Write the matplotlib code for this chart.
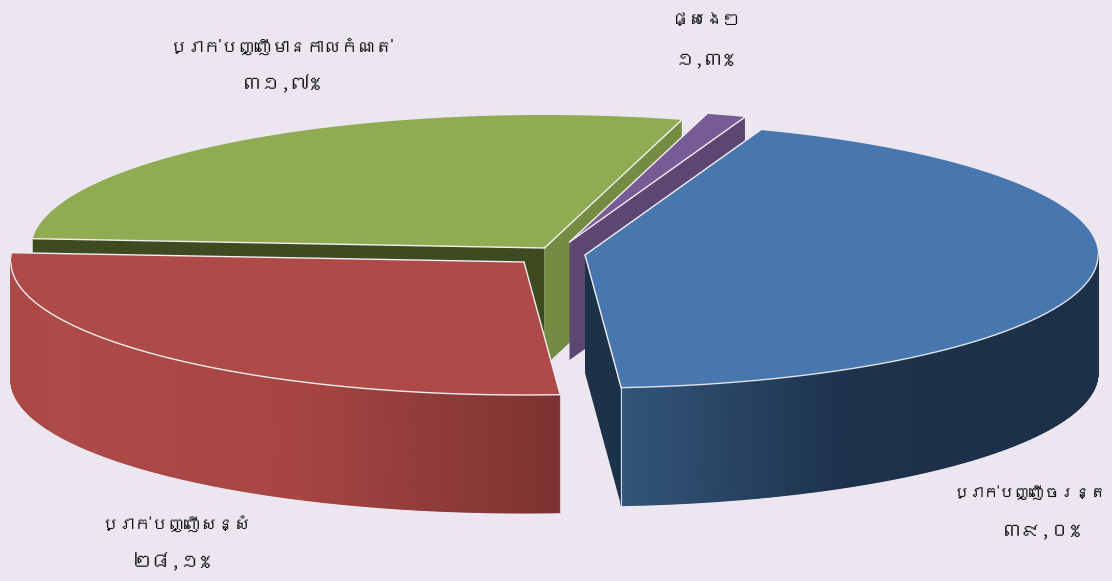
import numpy as np
import matplotlib
matplotlib.use("Agg")
import matplotlib.pyplot as plt
from matplotlib import font_manager as fm
from matplotlib.colors import LinearSegmentedColormap, Normalize
from matplotlib.ft2font import FT2Font

# ---- data ----
categories = ["ប្រាក់បញ្ញើចរន្ត", "ប្រាក់បញ្ញើសន្សំ", "ប្រាក់បញ្ញើមានកាលកំណត់", "ផ្សេងៗ"]
values = [39.0, 28.1, 31.7, 1.3]
value_labels = ["៣៩,០%", "២៨,១%", "៣១,៧%", "១,៣%"]

# ---- fonts: use a family with Khmer letters if the system has one ----
families = ["Noto Sans", "DejaVu Sans"]
for path in sorted(fm.findSystemFonts()):
    try:
        if 0x1780 in FT2Font(path).get_charmap():
            families.insert(0, fm.FontProperties(fname=path).get_name())
            break
    except Exception:
        pass
plt.rcParams["font.family"] = families
plt.rcParams["text.hinting"] = "no_hinting"
plt.rcParams["text.hinting_factor"] = 1

# ---- layout / style ----
BG = "#ebe6f0"
W, H = 1112, 581
RX, RY, DEPTH = 513, 133, 118
START = 70.0
# the reference is drawn in perspective: small per-boundary screen-angle corrections
PERSP = [0.0, -15.7, -12.7, -0.2, 0.0]
APEX = [(585, 255), (524, 262), (544.5, 248), (569.5, 242)]
TOP = ["#4876ae", "#ae4a47", "#8fac53", "#775b94"]
NAME_POS = [(1030, 493), (176, 524), (282, 46), (706, 20)]
NAME_SIZE = [11, 12, 12.4, 12.3]
VALUE_POS = [(1042, 531), (172, 562), (282, 84), (705, 60)]
VALUE_SIZE = 14

fig = plt.figure(figsize=(W / 100, H / 100), dpi=100, facecolor=BG)
ax = fig.add_axes([0, 0, 1, 1])
ax.set_xlim(0, W)
ax.set_ylim(H, 0)
ax.axis("off")

# slice boundaries, clockwise in screen parameter, from the values
total = sum(values)
cum = np.concatenate([[0], np.cumsum(values)]) / total * 360
bounds = [START - c + s for c, s in zip(cum, PERSP)]


def rim(i, a, b, n=240):
    t = np.radians(np.linspace(a, b, n))
    cx, cy = APEX[i]
    return cx + RX * np.cos(t), cy - RY * np.sin(t)


def pt(i, a):
    x, y = rim(i, a, a, 1)
    return x[0], y[0]


def side(i, a, color, z):
    cx, cy = APEX[i]
    x, y = pt(i, a)
    ax.fill([cx, x, x, cx], [cy, y, y + DEPTH, cy + DEPTH], color=color, lw=0, zorder=z)


def grad_wall(i, a, b, stops, z):
    x, y = rim(i, a, b, 240)
    xs, cs = zip(*stops)
    lo, hi = min(xs), max(xs)
    cmap = LinearSegmentedColormap.from_list(
        "wall", [((v - lo) / (hi - lo), c) for v, c in stops])
    X = np.vstack([x, x])
    Y = np.vstack([y, y + DEPTH])
    ax.pcolormesh(X, Y, X, shading="gouraud", cmap=cmap,
                  norm=Normalize(lo, hi), zorder=z)


def top(i, a, b, z, a_edge=True, b_edge=True):
    x, y = rim(i, a, b)
    cx, cy = APEX[i]
    ax.fill(np.r_[cx, x], np.r_[cy, y], color=TOP[i], lw=0, zorder=z)
    line = dict(color="#f2eef2", lw=1.0, zorder=z + 0.1, solid_capstyle="round")
    if a_edge:
        ax.plot([cx, x[0]], [cy, y[0]], **line)
    if b_edge:
        ax.plot([cx, x[-1]], [cy, y[-1]], **line)
    return line


b0, b1, b2, b3, b4 = bounds  # blue b0->b1, red b1->b2, green b2->b3, purple b3->b4

# green (back)
side(2, b2, "#3e4a20", 1)
side(2, b3, "#748c42", 1)
top(2, b2, b3, 2)
# purple
side(3, b4, "#5c4672", 3)
top(3, b3, b4, 4)
# red
grad_wall(1, b2 + 4.5, b1, [(10, "#ab4946"), (60, "#ae4a47"), (300, "#a64543"), (560, "#7c3331")], 5)
ln = top(1, b2, b1, 6)
ax.plot(*rim(1, b2 + 4.5, b1), **ln)
xa, ya = pt(1, b1)
ax.plot([xa, xa], [ya, ya + DEPTH], color="#d9c4c4", lw=0.8, zorder=6)
# blue
side(0, b1, "#1c3249", 7)
grad_wall(0, b1, 0, [(621, "#335579"), (850, "#1d324b"), (1098, "#1d3049")], 8)
top(0, b1, b0, 9)
ax.plot(*rim(0, b1, 0), color="#dfe3ea", lw=1.0, zorder=9.1)
xa, ya = pt(0, b1)
ax.plot([xa, xa], [ya, ya + DEPTH], color="#d5dbe4", lw=0.8, zorder=9.1)

for name, val, (nx, ny), (vx, vy), ns in zip(categories, value_labels, NAME_POS, VALUE_POS, NAME_SIZE):
    ax.text(nx, ny, name, ha="center", va="center", fontsize=ns, color="#151515", zorder=20)
    ax.text(vx, vy, val, ha="center", va="center", fontsize=VALUE_SIZE, color="#151515", zorder=20)

ax.set_xlim(0, W)
ax.set_ylim(H, 0)
fig.savefig("out.png", dpi=100, facecolor=BG)
